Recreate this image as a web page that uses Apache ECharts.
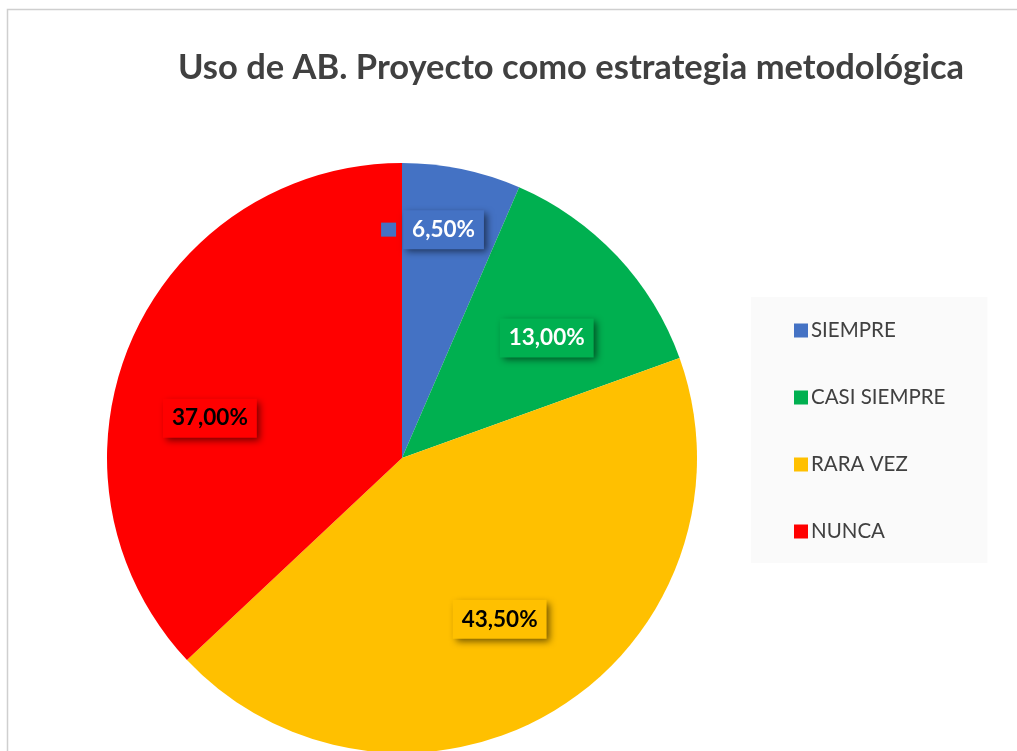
<!DOCTYPE html>
<html>
<head>
<meta charset="utf-8">
<script src="https://cdn.jsdelivr.net/npm/echarts@6/dist/echarts.min.js"></script>
<style>
  html, body { margin: 0; padding: 0; background: #fff; }
  #main { width: 1017px; height: 751px; }
</style>
</head>
<body>
<div id="main"></div>
<script>
const categories = ['SIEMPRE', 'CASI SIEMPRE', 'RARA VEZ', 'NUNCA'];
const values = [6.5, 13.0, 43.5, 37.0];
const colors = ['#4472C4', '#00B050', '#FFC000', '#FF0000'];
const labelColors = ['#ffffff', '#ffffff', '#000000', '#000000'];

// desplazamiento de cada etiqueta respecto a la posicion 'inside'
const offsets = [[0, -81], [35, -17], [19, 33], [-54, 20]];

const chart = echarts.init(document.getElementById('main'));

const option = {
  backgroundColor: '#ffffff',
  textStyle: { fontFamily: 'Lato' },
  title: {
    text: 'Uso de AB. Proyecto como estrategia metodológica',
    left: 566,
    top: 45,
    textAlign: 'center',
    textStyle: { fontFamily: 'Lato', fontSize: 34.5, fontWeight: 'bold', color: '#404040' }
  },
  graphic: [{
    type: 'rect',
    shape: { x: 7.5, y: 9.5, width: 1020, height: 760 },
    style: { fill: 'none', stroke: '#cfcfcf', lineWidth: 1.5 },
    silent: true
  }],
  legend: {
    orient: 'vertical',
    left: 751,
    top: 297,
    backgroundColor: '#fafafa',
    padding: [23, 42, 21, 43],
    itemWidth: 14,
    itemHeight: 14,
    itemGap: 46,
    icon: 'rect',
    data: categories,
    textStyle: { fontFamily: 'Lato', fontSize: 20.5, color: '#404040', padding: [0, 0, 0, -2], lineHeight: 20 }
  },
  series: [{
    type: 'pie',
    center: [402, 458],
    radius: [0, 295],
    startAngle: 90,
    clockwise: true,
    silent: true,
    label: { show: true, position: 'inside' },
    labelLine: { show: false },
    data: categories.map(function (name, i) {
      const txt = values[i].toFixed(2).replace('.', ',') + '%';
      const box = {
        color: labelColors[i],
        fontFamily: 'Lato',
        fontSize: 22.5,
        fontWeight: 'bold',
        backgroundColor: colors[i],
        padding: [8, 9, 8, 9],
        shadowColor: 'rgba(0,0,0,0.55)',
        shadowBlur: 7,
        shadowOffsetX: 3,
        shadowOffsetY: 3
      };
      const rich = { v: box, k: { width: 15, height: 14, backgroundColor: colors[i] }, g: { width: 7 } };
      return {
        name: name,
        value: values[i],
        itemStyle: { color: colors[i] },
        label: {
          formatter: i === 0 ? '{k|}{g|}{v|' + txt + '}' : '{v|' + txt + '}',
          offset: offsets[i],
          rich: rich
        }
      };
    })
  }]
};

chart.setOption(option);
</script>
</body>
</html>
